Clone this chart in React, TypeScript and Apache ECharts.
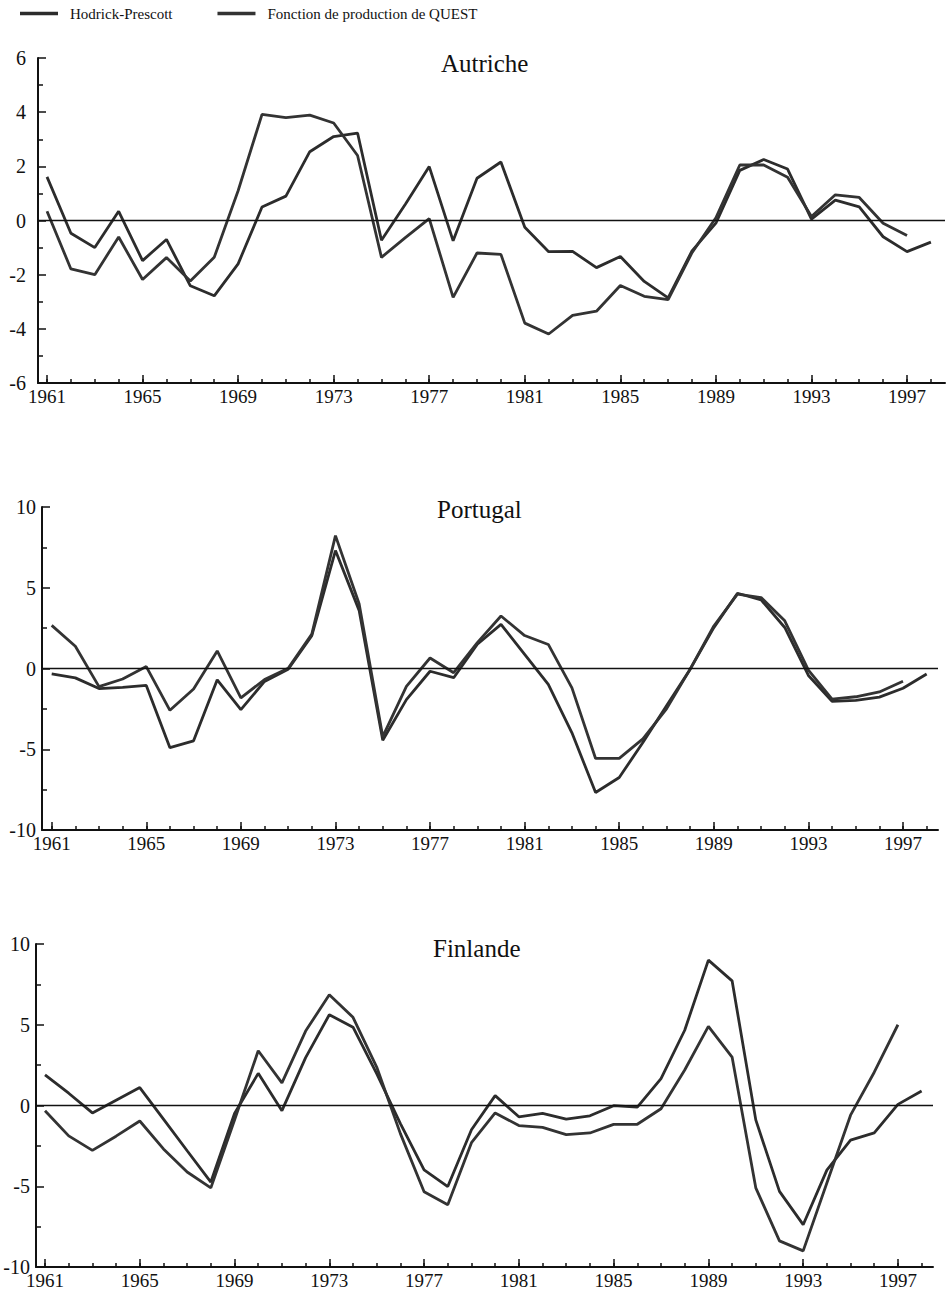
import React, { useEffect, useRef } from "react";
import * as echarts from "echarts";

const years = [
  1961, 1962, 1963, 1964, 1965, 1966, 1967, 1968, 1969, 1970,
  1971, 1972, 1973, 1974, 1975, 1976, 1977, 1978, 1979, 1980,
  1981, 1982, 1983, 1984, 1985, 1986, 1987, 1988, 1989, 1990,
  1991, 1992, 1993, 1994, 1995, 1996, 1997, 1998,
];
const labelYears = [1961, 1965, 1969, 1973, 1977, 1981, 1985, 1989, 1993, 1997];

const autricheHP = [
  1.61, -0.47, -1.0, 0.34, -1.48, -0.7, -2.41, -2.78, -1.6, 0.5,
  0.9, 2.54, 3.1, 3.23, -0.73, 0.6, 1.99, -0.75, 1.56, 2.16,
  -0.25, -1.15, -1.14, -1.74, -1.33, -2.25, -2.86, -1.12, -0.1, 1.85,
  2.25, 1.9, 0.05, 0.75, 0.5, -0.6, -1.15, -0.8,
];
const autricheQuest = [
  0.34, -1.79, -2.0, -0.61, -2.18, -1.37, -2.23, -1.36, 1.1, 3.92,
  3.8, 3.89, 3.6, 2.4, -1.36, -0.63, 0.07, -2.84, -1.2, -1.25,
  -3.79, -4.19, -3.5, -3.35, -2.4, -2.8, -2.92, -1.19, 0.1, 2.05,
  2.05, 1.6, 0.15, 0.95, 0.85, -0.1, -0.55, null,
];
const portugalHP = [
  -0.34, -0.58, -1.24, -1.17, -1.05, -4.9, -4.48, -0.7, -2.55, -0.8,
  -0.05, 2.03, 7.3, 3.6, -4.44, -1.93, -0.17, -0.57, 1.5, 2.73,
  0.87, -0.99, -3.98, -7.68, -6.75, -4.58, -2.3, -0.04, 2.53, 4.66,
  4.25, 2.54, -0.43, -2.03, -1.97, -1.77, -1.22, -0.34,
];
const portugalQuest = [
  2.67, 1.38, -1.12, -0.65, 0.12, -2.59, -1.27, 1.09, -1.82, -0.68,
  0.01, 2.13, 8.23, 4.01, -4.22, -1.11, 0.65, -0.26, 1.6, 3.25,
  2.04, 1.49, -1.2, -5.57, -5.56, -4.36, -2.5, -0.04, 2.63, 4.6,
  4.39, 2.95, -0.1, -1.9, -1.75, -1.45, -0.79, null,
];
const finlandeHP = [
  1.89, 0.76, -0.46, 0.33, 1.11, -0.84, -2.8, -4.74, -0.5, 1.99,
  -0.32, 2.96, 5.62, 4.85, 1.97, -1.12, -3.99, -5.02, -1.5, 0.61,
  -0.7, -0.49, -0.85, -0.64, -0.01, -0.1, 1.66, 4.66, 9.0, 7.72,
  -0.89, -5.32, -7.38, -4.0, -2.14, -1.7, 0.07, 0.9,
];
const finlandeQuest = [
  -0.33, -1.88, -2.78, -1.9, -0.96, -2.69, -4.12, -5.1, -0.9, 3.39,
  1.4, 4.61, 6.86, 5.46, 2.38, -1.74, -5.34, -6.15, -2.3, -0.46,
  -1.24, -1.36, -1.8, -1.7, -1.17, -1.16, -0.2, 2.2, 4.9, 3.0,
  -5.1, -8.38, -9.0, -4.8, -0.6, 2.06, 5.0, null,
];

const HP_NAME = "Hodrick-Prescott";
const QUEST_NAME = "Fonction de production de QUEST";
const FONT = "'Liberation Serif', 'DejaVu Serif', 'Times New Roman', serif";
const INK = "#111";

const panels = [
  { title: "Autriche", hp: autricheHP, q: autricheQuest, grid: { left: 38, top: 58, width: 907, height: 325 },
    xmin: 1960.623, xmax: 1998.59, ymin: -6, ymax: 6, interval: 2, labelMargin: 12, tLeft: 441, tTop: 51 },
  { title: "Portugal", hp: portugalHP, q: portugalQuest, grid: { left: 42, top: 507, width: 896, height: 323 },
    xmin: 1960.59, xmax: 1998.48, ymin: -10, ymax: 10, interval: 5, labelMargin: 6, tLeft: 437, tTop: 497 },
  { title: "Finlande", hp: finlandeHP, q: finlandeQuest, grid: { left: 36, top: 944, width: 897, height: 323 },
    xmin: 1960.62, xmax: 1998.48, ymin: -10, ymax: 10, interval: 5, labelMargin: 6, tLeft: 433, tTop: 936 },
];

function pairs(vals: (number | null)[]) {
  return years.map((y, i) => [y, vals[i]]).filter((p) => p[1] !== null && p[1] !== undefined);
}

export default function App() {
  const ref = useRef<HTMLDivElement>(null);
  useEffect(() => {
    if (!ref.current) return;
    const chart = echarts.init(ref.current, undefined, { renderer: "svg" });
    const tickStyle = { color: INK, width: 1.5 };
    const option: any = {
      animation: false,
      backgroundColor: "#fff",
      textStyle: { fontFamily: FONT },
      legend: {
        left: 20, top: 6, padding: 0, itemGap: 45, itemWidth: 38, itemHeight: 3.5, icon: "rect",
        data: [HP_NAME, QUEST_NAME],
        selectedMode: false,
        textStyle: { fontFamily: FONT, fontSize: 15, color: INK, padding: [0, 0, 0, 7] },
      },
      title: panels.map((p) => ({
        text: p.title, left: p.tLeft, top: p.tTop, padding: 0,
        textStyle: { fontFamily: FONT, fontSize: 25, fontWeight: "normal", color: INK },
      })),
      grid: panels.map((p) => ({ ...p.grid, containLabel: false })),
      xAxis: panels.flatMap((p, i) => [
        {
          type: "value", gridIndex: i, min: p.xmin, max: p.xmax, position: "bottom",
          axisLine: { show: true, onZero: false, lineStyle: { color: INK, width: 2 } },
          axisTick: { show: true, inside: true, length: 4, customValues: years, lineStyle: tickStyle },
          axisLabel: { show: true, customValues: labelYears, margin: 4, color: INK, fontFamily: FONT, fontSize: 19,
            formatter: (v: number) => String(Math.round(v)) },
          splitLine: { show: false },
        },
        {
          type: "value", gridIndex: i, min: p.xmin, max: p.xmax, position: "bottom",
          axisLine: { show: false, onZero: false },
          axisTick: { show: true, inside: true, length: 8, customValues: labelYears, lineStyle: tickStyle },
          axisLabel: { show: false },
          splitLine: { show: false },
        },
      ]),
      yAxis: panels.map((p, i) => ({
        type: "value", gridIndex: i, min: p.ymin, max: p.ymax, interval: p.interval,
        axisLine: { show: true, lineStyle: { color: INK, width: 2 } },
        axisTick: { show: true, inside: true, length: 8, lineStyle: tickStyle },
        minorTick: { show: true, splitNumber: 2, length: 5, lineStyle: tickStyle },
        axisLabel: { margin: p.labelMargin, color: INK, fontFamily: FONT, fontSize: 20 },
        splitLine: { show: false },
      })),
      series: panels.flatMap((p, i) => [
        {
          type: "line", name: HP_NAME, xAxisIndex: 2 * i, yAxisIndex: i, data: pairs(p.hp),
          symbol: "none", emphasis: { disabled: true },
          lineStyle: { color: "#2c2c2c", width: 2.8 }, itemStyle: { color: "#2c2c2c" },
          markLine: {
            silent: true, symbol: "none", label: { show: false },
            lineStyle: { color: INK, width: 1.3, type: "solid" },
            data: [{ yAxis: 0 }],
          },
        },
        {
          type: "line", name: QUEST_NAME, xAxisIndex: 2 * i, yAxisIndex: i, data: pairs(p.q),
          symbol: "none", emphasis: { disabled: true },
          lineStyle: { color: "#333333", width: 2.8 }, itemStyle: { color: "#333333" },
        },
      ]),
    };
    chart.setOption(option);
    return () => chart.dispose();
  }, []);
  return (
    <div
      ref={ref}
      style={{ position: "absolute", left: 0, top: 0, width: 950, height: 1301, background: "#fff" }}
    />
  );
}
